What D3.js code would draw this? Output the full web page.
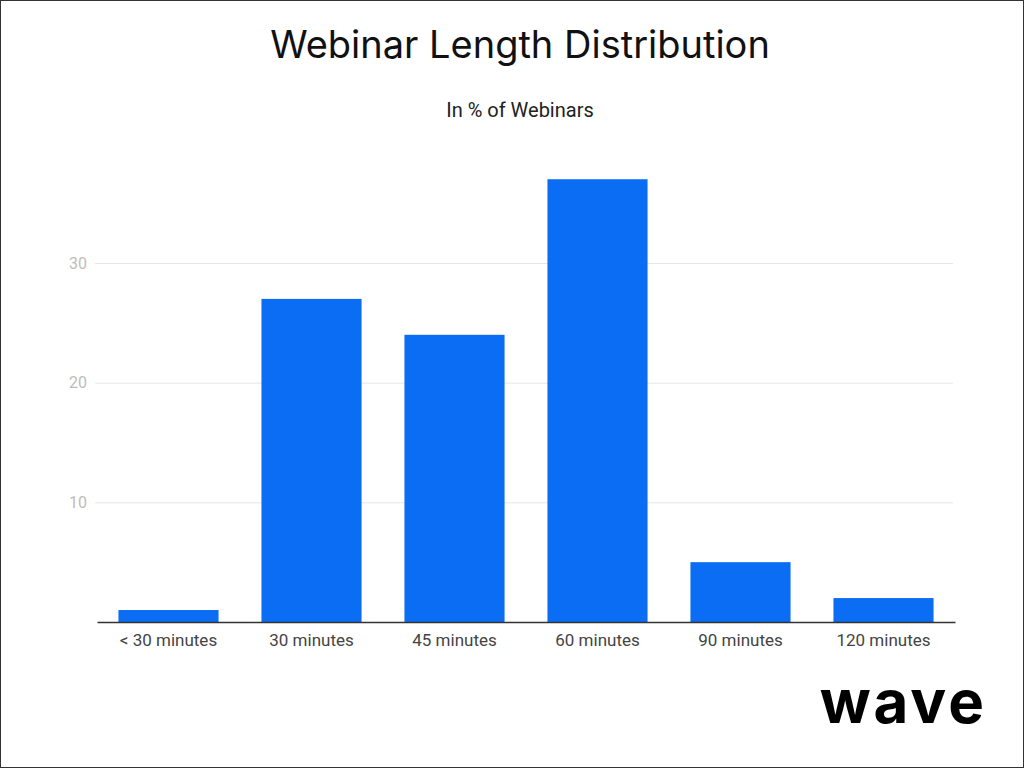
<!DOCTYPE html>
<html><head><meta charset="utf-8">
<script src="https://cdn.jsdelivr.net/npm/d3@7"></script>
<style>body{margin:0;background:#fff}svg{display:block}</style>
</head><body>
<script>
const categories = ["< 30 minutes","30 minutes","45 minutes","60 minutes","90 minutes","120 minutes"];
const values = [1,27,24,37,5,2];
const yTicks = [10,20,30];

const W=1024,H=768;
const svg=d3.select("body").append("svg").attr("width",W).attr("height",H);
svg.append("rect").attr("x",0.5).attr("y",0.5).attr("width",W-1).attr("height",H-1).attr("fill","#fff").attr("stroke","#333");

const x=d3.scaleBand().domain(categories).range([97,955]).paddingInner(0.3).paddingOuter(0.15);
const y=d3.scaleLinear().domain([0,30]).range([622,263]);

svg.append("text").attr("x",520).attr("y",58).attr("text-anchor","middle")
  .attr("font-family","Inter, Lato, sans-serif").attr("font-size",38).attr("fill","#111").text("Webinar Length Distribution");
svg.append("text").attr("x",520).attr("y",117).attr("text-anchor","middle")
  .attr("font-family","Roboto, sans-serif").attr("font-size",20).attr("fill","#222").text("In % of Webinars");

const ya=svg.append("g").attr("transform","translate(95,0)")
  .call(d3.axisLeft(y).tickValues(yTicks).tickSize(-858).tickFormat(d3.format("d")));
ya.select(".domain").remove();
ya.selectAll("line").attr("stroke","#e6e6e6");
ya.selectAll("text").attr("fill","#bdbdbd").attr("font-family","Roboto, sans-serif").attr("font-size",16).attr("x",-8);

svg.selectAll(".bar").data(values).join("rect").attr("class","bar")
  .attr("x",(d,i)=>x(categories[i])).attr("width",x.bandwidth())
  .attr("y",d=>y(d)).attr("height",d=>y(0)-y(d)).attr("fill","#0b6cf4");

const xa=svg.append("g").attr("transform","translate(0,622)").call(d3.axisBottom(x).tickSize(0).tickPadding(12));
xa.select(".domain").attr("stroke","#333").attr("stroke-width",1.5);
xa.selectAll("text").attr("fill","#444").attr("font-family","Roboto, sans-serif").attr("font-size",17);

svg.append("text").attr("x",987).attr("y",723).attr("text-anchor","end")
  .attr("font-family","Inter, sans-serif").attr("font-weight",700).attr("font-size",60).attr("letter-spacing",3).attr("fill","#000").text("wave");
</script>
</body></html>
